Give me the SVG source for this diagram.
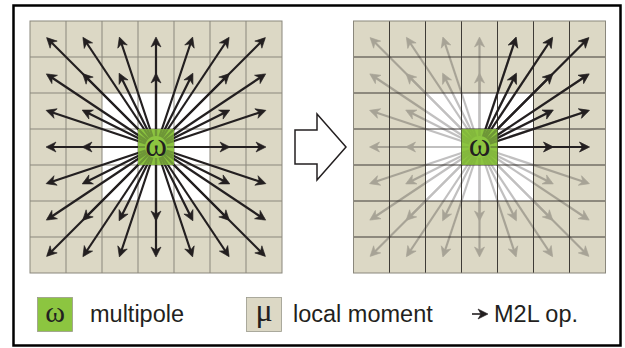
<svg xmlns="http://www.w3.org/2000/svg" xmlns:xlink="http://www.w3.org/1999/xlink" width="625" height="348" viewBox="0 0 625 348">
<style>
.beige{fill:#dcd8c5}
.gl{fill:none;stroke:#8a877c;stroke-width:1}
.gr{fill:none;stroke:#3e3b36;stroke-width:1}
.green{fill:#8cc540}
.ar{stroke:#231f20;stroke-width:2.2;fill:none;marker-end:url(#ah)}
.om{font-family:"Liberation Serif","DejaVu Serif",serif;fill:#231f20;text-anchor:middle}
.lt{font-family:"Liberation Sans",Arial,sans-serif;font-size:23.5px;fill:#231f20}
</style>
<defs>
<marker id="ah" viewBox="-10 -6 13 12" refX="0" refY="0" markerWidth="13" markerHeight="12" markerUnits="userSpaceOnUse" orient="auto" overflow="visible">
<path d="M2,0 L-8,-5 L-5,0 L-8,5 Z" fill="#231f20" stroke="#231f20" stroke-width="0.6" stroke-linejoin="round"/>
</marker>
<g id="fan">
<line class="ar" x1="156" y1="147" x2="48" y2="39"/>
<line class="ar" x1="156" y1="147" x2="84" y2="39"/>
<line class="ar" x1="156" y1="147" x2="120" y2="39"/>
<line class="ar" x1="156" y1="147" x2="156" y2="39"/>
<line class="ar" x1="156" y1="147" x2="192" y2="39"/>
<line class="ar" x1="156" y1="147" x2="228" y2="39"/>
<line class="ar" x1="156" y1="147" x2="264" y2="39"/>
<line class="ar" x1="156" y1="147" x2="48" y2="75"/>
<line class="ar" x1="156" y1="147" x2="84" y2="75"/>
<line class="ar" x1="156" y1="147" x2="120" y2="75"/>
<line class="ar" x1="156" y1="147" x2="156" y2="75"/>
<line class="ar" x1="156" y1="147" x2="192" y2="75"/>
<line class="ar" x1="156" y1="147" x2="228" y2="75"/>
<line class="ar" x1="156" y1="147" x2="264" y2="75"/>
<line class="ar" x1="156" y1="147" x2="48" y2="111"/>
<line class="ar" x1="156" y1="147" x2="84" y2="111"/>
<line class="ar" x1="156" y1="147" x2="228" y2="111"/>
<line class="ar" x1="156" y1="147" x2="264" y2="111"/>
<line class="ar" x1="156" y1="147" x2="48" y2="147"/>
<line class="ar" x1="156" y1="147" x2="84" y2="147"/>
<line class="ar" x1="156" y1="147" x2="228" y2="147"/>
<line class="ar" x1="156" y1="147" x2="264" y2="147"/>
<line class="ar" x1="156" y1="147" x2="48" y2="183"/>
<line class="ar" x1="156" y1="147" x2="84" y2="183"/>
<line class="ar" x1="156" y1="147" x2="228" y2="183"/>
<line class="ar" x1="156" y1="147" x2="264" y2="183"/>
<line class="ar" x1="156" y1="147" x2="48" y2="219"/>
<line class="ar" x1="156" y1="147" x2="84" y2="219"/>
<line class="ar" x1="156" y1="147" x2="120" y2="219"/>
<line class="ar" x1="156" y1="147" x2="156" y2="219"/>
<line class="ar" x1="156" y1="147" x2="192" y2="219"/>
<line class="ar" x1="156" y1="147" x2="228" y2="219"/>
<line class="ar" x1="156" y1="147" x2="264" y2="219"/>
<line class="ar" x1="156" y1="147" x2="48" y2="255"/>
<line class="ar" x1="156" y1="147" x2="84" y2="255"/>
<line class="ar" x1="156" y1="147" x2="120" y2="255"/>
<line class="ar" x1="156" y1="147" x2="156" y2="255"/>
<line class="ar" x1="156" y1="147" x2="192" y2="255"/>
<line class="ar" x1="156" y1="147" x2="228" y2="255"/>
<line class="ar" x1="156" y1="147" x2="264" y2="255"/>
</g>
</defs>
<rect x="0" y="0" width="625" height="348" fill="#fff"/>
<rect id="frame" x="13.5" y="5.5" width="607" height="340" fill="none" stroke="#000" stroke-width="2.5"/>

<g id="grid-left">
<rect class="beige" x="30" y="21" width="252" height="252"/>
<rect x="102" y="93" width="108" height="108" fill="#fff"/>
<rect class="green" x="138" y="129" width="36" height="36"/>
<path class="gl" d="M66,21V273M102,21V273M138,21V273M174,21V273M210,21V273M246,21V273M30,57H282M30,93H282M30,129H282M30,165H282M30,201H282M30,237H282"/>
<rect class="gl" x="30" y="21" width="252" height="252"/>
</g>

<g id="grid-right">
<rect class="beige" x="353.5" y="21" width="252" height="252"/>
<rect x="425.5" y="93" width="108" height="108" fill="#fff"/>
<rect class="green" x="461.5" y="129" width="36" height="36"/>
<path class="gr" d="M389.5,21V273M425.5,21V273M461.5,21V273M497.5,21V273M533.5,21V273M569.5,21V273M353.5,57H605.5M353.5,93H605.5M353.5,129H605.5M353.5,165H605.5M353.5,201H605.5M353.5,237H605.5"/>
<rect x="353.5" y="21" width="252" height="252" fill="none" stroke="#8a877c" stroke-width="1"/>
</g>

<g id="connectors">
<use xlink:href="#fan"/>
<g opacity="0.28"><use xlink:href="#fan" transform="translate(323.5,0)"/></g>
<line class="ar" x1="479.5" y1="147" x2="515.5" y2="39"/>
<line class="ar" x1="479.5" y1="147" x2="551.5" y2="39"/>
<line class="ar" x1="479.5" y1="147" x2="587.5" y2="39"/>
<line class="ar" x1="479.5" y1="147" x2="515.5" y2="75"/>
<line class="ar" x1="479.5" y1="147" x2="551.5" y2="75"/>
<line class="ar" x1="479.5" y1="147" x2="587.5" y2="75"/>
<line class="ar" x1="479.5" y1="147" x2="551.5" y2="111"/>
<line class="ar" x1="479.5" y1="147" x2="587.5" y2="111"/>
<line class="ar" x1="479.5" y1="147" x2="551.5" y2="147"/>
<line class="ar" x1="479.5" y1="147" x2="587.5" y2="147"/>
</g>

<g id="multipole-left">
<circle class="green" cx="156" cy="147" r="11"/>
<rect class="green" x="138" y="129" width="36" height="36" fill-opacity="0.72"/>
<text class="om" x="156" y="156" font-size="33">ω</text>
</g>
<g id="multipole-right">
<circle class="green" cx="479.5" cy="147" r="11"/>
<rect class="green" x="461.5" y="129" width="36" height="36" fill-opacity="0.72"/>
<text class="om" x="479.5" y="156" font-size="33">ω</text>
</g>

<g id="step-arrow">
<polygon points="295,130 317,130 317,114 346,147 317,180 317,164 295,164" fill="#fff" stroke="#231f20" stroke-width="1.5" stroke-linejoin="miter"/>
</g>

<g id="legend-multipole">
<rect class="green" x="37.5" y="297.5" width="35" height="34" stroke="#9a9a8a" stroke-width="0.8"/>
<text class="om" x="55" y="322" font-size="30">ω</text>
<text class="lt" x="90" y="322">multipole</text>
</g>
<g id="legend-local">
<rect class="beige" x="246.5" y="297.5" width="35" height="34" stroke="#9a9a8a" stroke-width="0.8"/>
<text class="om" x="264" y="321" font-size="32">μ</text>
<text class="lt" x="293" y="322">local moment</text>
</g>
<g id="legend-m2l">
<line class="ar" x1="472" y1="314" x2="486" y2="314" style="stroke-width:1.6"/>
<text class="lt" x="494" y="322">M2L op.</text>
</g>
</svg>
